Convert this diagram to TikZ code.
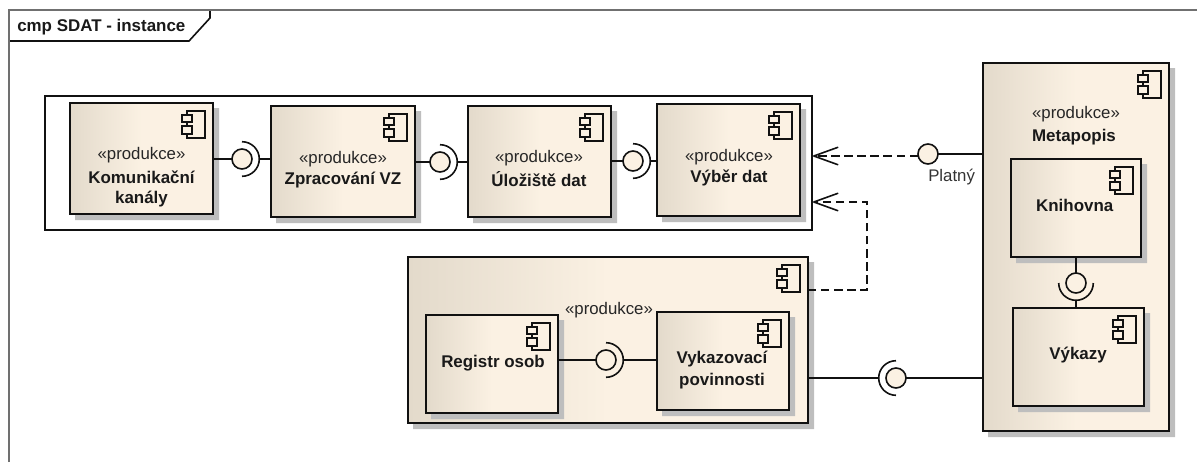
\documentclass[tikz,border=0pt]{standalone}
\usepackage{fontspec}
\setmainfont{Liberation Sans}
\usetikzlibrary{arrows.meta}
\definecolor{gradL}{HTML}{E3DACB}
\definecolor{gradR}{HTML}{FBF1E3}
\definecolor{shadowgray}{HTML}{BEBEBE}
\definecolor{frameline}{HTML}{707070}
\definecolor{ink}{HTML}{111111}
\tikzset{
  x=0.75pt,y=-0.75pt,
  comp/.style={draw=ink,line width=1.2pt,inner sep=0pt,outer sep=0pt,anchor=north west,
    left color=gradL,right color=gradR,middle color=gradR},
  holder/.style={draw=ink,fill=white,line width=1.2pt,inner sep=0pt,outer sep=0pt,anchor=north west},
  ball/.style={circle,draw=ink,line width=1.2pt,fill=gradR,inner sep=0pt,outer sep=0pt,minimum size=15pt},
  conn/.style={draw=ink,line width=1.2pt},
  dep/.style={draw=ink,line width=1.2pt,dash pattern=on 6.3pt off 3.5pt,
    -{Straight Barb[length=18pt,width=13pt,line width=1.2pt,round]}},
  stereo/.style={font=\fontsize{12.6pt}{14pt}\selectfont,text=black!85,inner sep=0pt},
  title/.style={font=\fontsize{12.7pt}{14pt}\selectfont\bfseries,text=black!90,inner sep=0pt,align=center},
  labeltxt/.style={font=\fontsize{12.6pt}{14pt}\selectfont,text=black!80,inner sep=0pt},
  icon/.style={draw=ink,line width=1.2pt},
  iconpart/.style={draw=ink,fill=gradR,line width=1.2pt},
}
\newcommand{\shadowof}[4]{%
  \path[fill=shadowgray,draw=none] (#3,#2+5) -- (#3+6,#2+5) -- (#3+6,#4+6) -- (#1+5,#4+6) -- (#1+5,#4) -- (#3,#4) -- cycle;}
\newcommand{\compbox}[5]{%
  \shadowof{#2}{#3}{#4}{#5}
  \node[comp,minimum width={(#4-#2)*0.75pt},minimum height={(#5-#3)*0.75pt}] (#1) at (#2,#3) {};
  \begin{scope}[shift={(#1.north east)}]
    \draw[icon] (-26,8) rectangle (-8,35);
    \draw[iconpart] (-31,12) rectangle (-21,19);
    \draw[iconpart] (-31,23) rectangle (-21,31);
  \end{scope}}
\begin{document}
\begin{tikzpicture}
\useasboundingbox (0,0) rectangle (1197,462);
\draw[draw=ink,fill=white,line width=1.2pt] (9,41) -- (189,41) -- (210,18) -- (210,10);
\draw[frameline,line width=1.3pt] (9,462) -- (9,10) -- (1197,10);
\node[title,anchor=west] (frametitle) at (17,27) {cmp SDAT - instance};
\node[holder,minimum width={(812-45)*0.75pt},minimum height={(230-96)*0.75pt}] (row) at (45,96) {};
\compbox{kom}{70}{103}{213}{214}
\compbox{zpr}{271}{106}{415}{217}
\compbox{ulo}{468}{106}{611}{217}
\compbox{vyb}{657}{104}{800}{216}
\compbox{reg}{408}{257}{808}{423}
\compbox{met}{983}{63}{1169}{431}
\compbox{regos}{426}{315}{558}{413}
\compbox{vyk}{657}{312}{789}{410}
\compbox{kni}{1011}{159}{1141}{257}
\compbox{vyz}{1013}{308}{1144}{406}
\node[stereo] (t1a) at (141.5,155) {«produkce»};
\node[title] (t1b) at (141.5,177) {Komunikační};
\node[title] (t1c) at (141.5,199) {kanály};
\node[stereo] (t2a) at (343,158.7) {«produkce»};
\node[title] (t2b) at (343,180) {Zpracování VZ};
\node[stereo] (t3a) at (539,157.7) {«produkce»};
\node[title] (t3b) at (539,179) {Úložiště dat};
\node[stereo] (t4a) at (729,156.7) {«produkce»};
\node[title] (t4b) at (729,177.5) {Výběr dat};
\node[stereo] (t5a) at (1076,114) {«produkce»};
\node[title] (t5b) at (1074,136.7) {Metapopis};
\node[title] (t6) at (1074.7,205) {Knihovna};
\node[title] (t7) at (1078,355) {Výkazy};
\node[title] (t8) at (493,362.7) {Registr osob};
\node[title] (t9a) at (722,359) {Vykazovací};
\node[title] (t9b) at (722,380.7) {povinnosti};
\node[stereo] (t10) at (609,310) {«produkce»};
\node[ball] (b1) at (242,159) {};
\node[ball] (b2) at (440,162) {};
\node[ball] (b3) at (633,161) {};
\node[ball] (b4) at (606,360) {};
\node[ball] (b5) at (896,378) {};
\node[ball] (b6) at (1076,283) {};
\node[ball] (b7) at (928,154) {};
\coordinate (s1) at (259.3,159);
\coordinate (s2) at (457.3,162);
\coordinate (s3) at (650.3,161);
\coordinate (s4) at (623.3,360);
\coordinate (s5) at (878.7,378);
\coordinate (s6) at (1076,300.3);
\draw[conn] (kom.east |- b1) -- (b1);
\draw[conn] (zpr.east |- b2) -- (b2);
\draw[conn] (ulo.east |- b3) -- (b3);
\draw[conn] (regos.east |- b4) -- (b4);
\draw[conn] (reg.east |- b5) -- (s5);
\draw[conn] (b5) -- (met.west |- b5);
\draw[conn] (kni.south -| b6) -- (b6);
\draw[conn] (b7) -- (met.west |- b7);
\draw[conn] (s1) -- (zpr.west |- s1);
\draw[conn] (s2) -- (ulo.west |- s2);
\draw[conn] (s3) -- (vyb.west |- s3);
\draw[conn] (s4) -- (vyk.west |- s4);
\draw[conn] (s6) -- (vyz.north -| s6);
\draw[conn] (b1.center) ++(0,-17.3) arc[start angle=-90,end angle=90,radius=17.3];
\draw[conn] (b2.center) ++(0,-17.3) arc[start angle=-90,end angle=90,radius=17.3];
\draw[conn] (b3.center) ++(0,-17.3) arc[start angle=-90,end angle=90,radius=17.3];
\draw[conn] (b4.center) ++(0,-17.3) arc[start angle=-90,end angle=90,radius=17.3];
\draw[conn] (b5.center) ++(0,-17.3) arc[start angle=270,end angle=90,radius=17.3];
\draw[conn] (b6.center) ++(-17.3,0) arc[start angle=180,end angle=0,radius=17.3];
\coordinate (a1) at (813,156);
\coordinate (a2) at (813,202);
\coordinate (d2a) at (867,290);
\coordinate (d2b) at (867,202);
\draw[dep] (b7.west |- a1) -- (a1);
\draw[dep] (reg.east |- d2a) -- (d2a) -- (d2b) -- (a2);
\node[labeltxt,anchor=west] (platny) at (928,177) {Platný};
\end{tikzpicture}
\end{document}
